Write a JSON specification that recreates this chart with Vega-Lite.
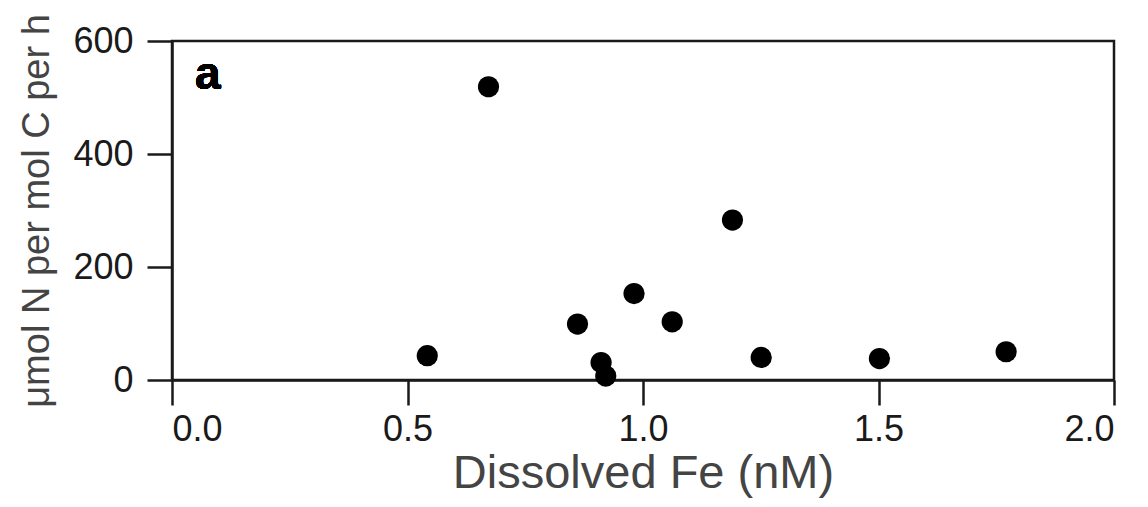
{
  "$schema": "https://vega.github.io/schema/vega-lite/v6.json",
  "autosize": {"type": "none"},
  "padding": {"left": 172, "top": 41, "right": 34, "bottom": 127},
  "width": 942,
  "height": 339,
  "background": "white",
  "config": {
    "view": {"stroke": "#1a1a1a", "strokeWidth": 2.5},
    "font": "Liberation Sans",
    "axis": {
      "domainColor": "#1a1a1a", "domainWidth": 2.5,
      "tickColor": "#1a1a1a", "tickWidth": 2.5, "tickSize": 25,
      "grid": false,
      "labelFont": "Liberation Sans", "labelFontSize": 36, "labelColor": "#1a1a1a",
      "titleFont": "Liberation Sans", "titleFontWeight": "normal", "titleColor": "#444444"
    }
  },
  "data": {"values": [
    {"fe": 0.542, "rate": 43},
    {"fe": 0.672, "rate": 519},
    {"fe": 0.861, "rate": 99},
    {"fe": 0.911, "rate": 31},
    {"fe": 0.921, "rate": 7},
    {"fe": 0.981, "rate": 153},
    {"fe": 1.062, "rate": 103},
    {"fe": 1.190, "rate": 283},
    {"fe": 1.251, "rate": 40},
    {"fe": 1.502, "rate": 38},
    {"fe": 1.771, "rate": 50}
  ]},
  "layer": [
    {
      "mark": {"type": "circle", "size": 450, "color": "black", "opacity": 1},
      "encoding": {
        "x": {"field": "fe", "type": "quantitative",
              "scale": {"domain": [0, 2], "nice": false, "zero": false},
              "axis": {"values": [0, 0.5, 1, 1.5, 2], "format": ".1f", "title": "Dissolved Fe (nM)",
                       "titleFontSize": 47, "titlePadding": 3, "labelPadding": 7}},
        "y": {"field": "rate", "type": "quantitative",
              "scale": {"domain": [0, 600], "nice": false},
              "axis": {"values": [0, 200, 400, 600], "title": "μmol N per mol C per h",
                       "titleFontSize": 38, "titlePadding": 16, "labelPadding": 14}}
      }
    },
    {
      "mark": {"type": "text", "text": "a", "fontSize": 46, "fontWeight": "bold", "font": "Liberation Sans", "color": "black", "align": "center", "baseline": "middle"},
      "encoding": {
        "x": {"datum": 0.076, "type": "quantitative"},
        "y": {"datum": 540, "type": "quantitative"}
      }
    }
  ]
}
